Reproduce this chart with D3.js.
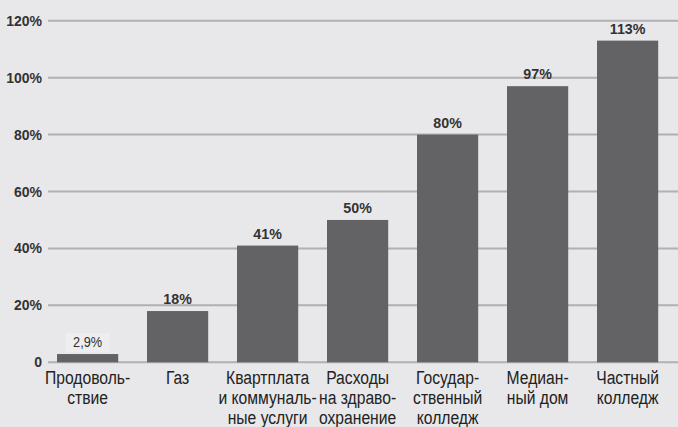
<!DOCTYPE html>
<html><head><meta charset="utf-8">
<script src="https://cdn.jsdelivr.net/npm/d3@7"></script>
<style>body{margin:0;background:#e8e8ea;}svg{display:block;}</style>
</head><body>
<svg id="c" width="678" height="427"></svg>
<script>
const categories = [
  ["Продоволь-","ствие"],
  ["Газ"],
  ["Квартплата","и коммуналь-","ные услуги"],
  ["Расходы","на здраво-","охранение"],
  ["Государ-","ственный","колледж"],
  ["Медиан-","ный дом"],
  ["Частный","колледж"]
];
const values = [2.9, 18, 41, 50, 80, 97, 113];
const valueLabels = ["2,9%","18%","41%","50%","80%","97%","113%"];
const yTicks = [0, 20, 40, 60, 80, 100, 120];
const yTickLabels = ["0","20%","40%","60%","80%","100%","120%"];

const svg = d3.select("#c");
const W = 678, H = 427;
svg.append("rect").attr("width", W).attr("height", H).attr("fill", "#e8e8ea");

const y = d3.scaleLinear().domain([0, 120]).range([362.3, 20.7]);
const x = d3.scaleBand().domain(d3.range(values.length)).range([48, 667.2]).paddingInner(0.32).paddingOuter(0.1);

const sans = "'Liberation Sans',Arial,Helvetica,sans-serif";

// grid
svg.append("g").selectAll("line").data(yTicks).join("line")
  .attr("x1", 48).attr("x2", W)
  .attr("y1", d => y(d)).attr("y2", d => y(d))
  .attr("stroke", "#b0b0b4").attr("stroke-width", 2);

// y tick labels
svg.append("g").selectAll("text").data(yTicks).join("text")
  .attr("x", 42).attr("y", d => y(d)).attr("dy", "0.36em")
  .attr("text-anchor", "end")
  .attr("font-family", sans).attr("font-weight", "bold").attr("font-size", 14)
  .attr("fill", "#333").text((d, i) => yTickLabels[i]);

// bars
svg.append("g").selectAll("rect").data(values).join("rect")
  .attr("x", (d, i) => x(i)).attr("width", x.bandwidth())
  .attr("y", d => y(d)).attr("height", d => y(0) - y(d))
  .attr("fill", "#636366");

// small-value label background
svg.append("rect")
  .attr("x", x(0) + x.bandwidth()/2 - 22).attr("y", y(values[0]) - 21)
  .attr("width", 44).attr("height", 19).attr("fill", "#eeeef0");

// value labels
svg.append("g").selectAll("text").data(values).join("text")
  .attr("transform", (d, i) => `translate(${x(i) + x.bandwidth()/2},${y(d) - 7}) scale(${i === 0 ? 0.85 : 0.95},1)`)
  .attr("text-anchor", "middle")
  .attr("font-family", sans)
  .attr("font-weight", (d, i) => i === 0 ? "normal" : "bold")
  .attr("font-size", 15)
  .attr("fill", "#333").text((d, i) => valueLabels[i]);

// category labels
const cg = svg.append("g").selectAll("text").data(categories).join("text")
  .attr("transform", (d, i) => `translate(${x(i) + x.bandwidth()/2},0) scale(0.87,1)`)
  .attr("text-anchor", "middle")
  .attr("font-family", sans).attr("font-size", 18).attr("fill", "#222");
cg.each(function(lines) {
  d3.select(this).selectAll("tspan").data(lines).join("tspan")
    .attr("x", 0)
    .attr("y", (d, j) => 384 + j * 20)
    .text(d => d);
});
</script>
</body></html>
